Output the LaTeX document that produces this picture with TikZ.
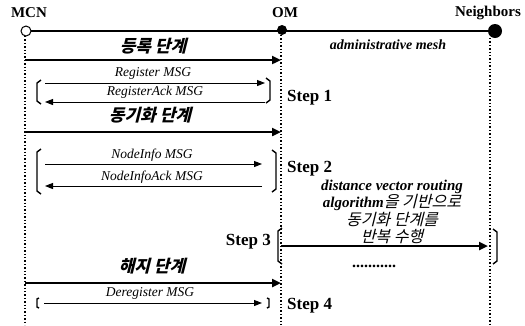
\documentclass[tikz,border=0pt]{standalone}
\usepackage{fontspec}
\setmainfont{Liberation Serif}
\newfontfamily\kr{Noto Sans CJK KR}[FakeSlant=0.25]
\usetikzlibrary{arrows.meta}
\tikzset{
  life/.style={line width=1.4pt, dotted},
  phase/.style={line width=2.4pt, -{Triangle[length=9pt,width=8pt]}},
  msg/.style={line width=1pt, -{Triangle[length=8pt,width=6pt]}},
  lbl/.style={font=\bfseries\fontsize{15}{16}\selectfont, inner sep=0pt},
  steplbl/.style={font=\bfseries\fontsize{17}{18}\selectfont, inner sep=0pt},
  mlbl/.style={font=\itshape\fontsize{13.5}{14}\selectfont, inner sep=0pt},
  krlbl/.style={font=\kr\bfseries\fontsize{17}{18}\selectfont, inner sep=0pt},
  brk/.style={line width=1.4pt},
}
\newcommand{\krmid}[1]{{\kr\mdseries\fontsize{16}{17.5}\selectfont #1}}
\begin{document}
\begin{tikzpicture}[x=1pt,y=-1pt]
\useasboundingbox (0,0) rectangle (525,325);
% headers
\node[lbl] (mcnl) at (29,13) {MCN};
\node[lbl] (oml) at (285,13) {OM};
\node[lbl] (nbl) at (488,13) {Neighbors};
% entity markers
\coordinate (mcn) at (26,31);
\coordinate (om) at (282,30);
\coordinate (nb) at (495,31);
\draw[line width=2pt] (mcn) -- (nb);
\node[circle, draw, line width=1pt, fill=white, minimum size=10pt, inner sep=0pt] (mcnc) at (mcn) {};
\node[circle, fill=black, minimum size=10pt, inner sep=0pt] (omc) at (om) {};
\node[circle, fill=black, minimum size=14pt, inner sep=0pt] (nbc) at (nb) {};
\node[font=\bfseries\itshape\fontsize{14}{15}\selectfont, inner sep=0pt] (adm) at (388,45) {administrative mesh};
% lifelines
\coordinate (mcnt) at (25,36);
\coordinate (mcnb) at (25,325);
\coordinate (omt) at (281,35);
\coordinate (omb) at (281,325);
\coordinate (nbt) at (490,38);
\coordinate (nbb) at (490,325);
\draw[life] (mcnt) -- (mcnb);
\draw[life] (omt) -- (omb);
\draw[life] (nbt) -- (nbb);
% phase 1
\node[krlbl] (p1) at (153,46) {등록 단계};
\coordinate (p1a) at (25,60); \coordinate (p1b) at (281,60);
\draw[phase] (p1a) -- (p1b);
\node[mlbl] (m1) at (153,73) {Register MSG};
\coordinate (m1a) at (45,83); \coordinate (m1b) at (265,83);
\draw[msg] (m1a) -- (m1b);
\node[mlbl] (m2) at (155,92) {RegisterAck MSG};
\coordinate (m2a) at (265,102); \coordinate (m2b) at (45,102);
\draw[msg] (m2a) -- (m2b);
\draw[brk] (41,80) -- (37,83) -- (37,101) -- (41,104);
\draw[brk] (266,78) -- (270,81) -- (270,100) -- (266,103);
\node[steplbl, anchor=west] (s1) at (287,98) {Step 1};
% phase 2
\node[krlbl] (p2) at (150,115) {동기화 단계};
\coordinate (p2a) at (25,132); \coordinate (p2b) at (281,132);
\draw[phase] (p2a) -- (p2b);
\node[mlbl] (m3) at (152,155) {NodeInfo MSG};
\coordinate (m3a) at (45,164); \coordinate (m3b) at (262,164);
\draw[msg] (m3a) -- (m3b);
\node[mlbl] (m4) at (152,177) {NodeInfoAck MSG};
\coordinate (m4a) at (262,186); \coordinate (m4b) at (45,186);
\draw[msg] (m4a) -- (m4b);
\draw[brk] (41,149) -- (37,152) -- (37,191) -- (41,194);
\draw[brk] (272,150) -- (276,153) -- (276,189) -- (272,192);
\node[steplbl, anchor=west] (s2) at (287,169) {Step 2};
% phase 3
\node[font=\itshape\bfseries\fontsize{15}{17.5}\selectfont, inner sep=0pt, align=center] (dv) at (392,212) {distance vector routing\\algorithm\krmid{을 기반으로}\\\krmid{동기화 단계를}\\\krmid{반복 수행}};
\node[steplbl, anchor=east] (s3) at (271,242) {Step 3};
\coordinate (p3a) at (281,246); \coordinate (p3b) at (488,246);
\draw[phase] (p3a) -- (p3b);
\draw[brk] (282,228) -- (278,231) -- (278,261) -- (282,264);
\draw[brk] (493,229) -- (497,232) -- (497,261) -- (493,264);
\node[font=\bfseries\fontsize{16}{16}\selectfont, inner sep=0pt] (dots) at (374,266) {...........};
% phase 4
\node[krlbl] (p4) at (152,266) {해지 단계};
\coordinate (p4a) at (25,283); \coordinate (p4b) at (281,283);
\draw[phase] (p4a) -- (p4b);
\node[mlbl] (m5) at (150,293) {Deregister MSG};
\coordinate (m5a) at (44,303); \coordinate (m5b) at (262,303);
\draw[msg] (m5a) -- (m5b);
\draw[brk] (39,298) -- (37,299) -- (37,307) -- (39,308);
\draw[brk] (267,298) -- (269,299) -- (269,307) -- (267,308);
\node[steplbl, anchor=west] (s4) at (287,306) {Step 4};
\end{tikzpicture}
\end{document}
